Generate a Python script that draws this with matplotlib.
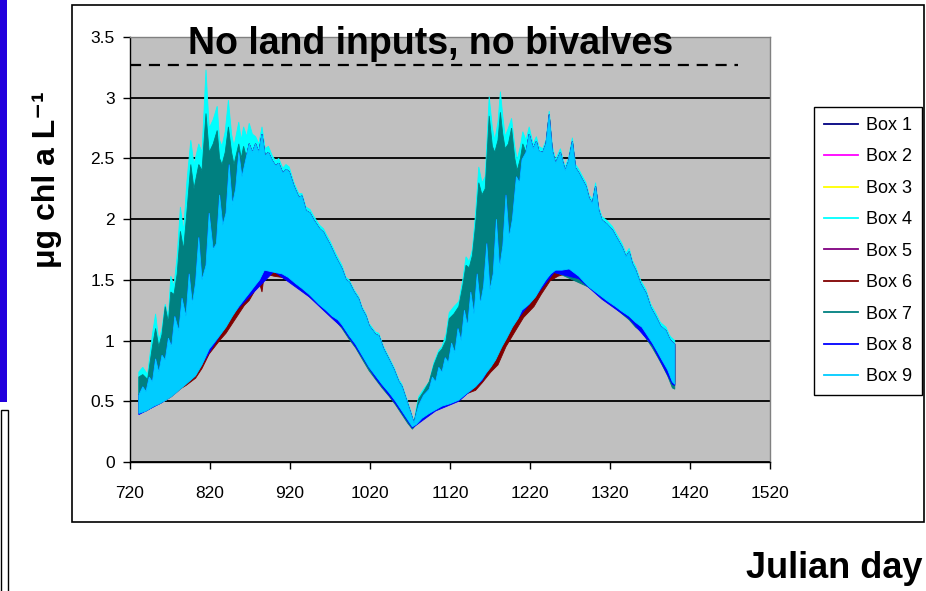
import numpy as np
import matplotlib
matplotlib.use("Agg")
import matplotlib.pyplot as plt
from matplotlib.lines import Line2D
from matplotlib.patches import Rectangle

plt.rcParams['font.family'] = ['Liberation Sans', 'DejaVu Sans']

# ---------------- data ----------------
box_labels = ["Box 1", "Box 2", "Box 3", "Box 4", "Box 5", "Box 6", "Box 7", "Box 8", "Box 9"]
box_colors = ["#000080", "#FF00FF", "#FFFF00", "#00FFFF", "#800080", "#800000", "#008080", "#0000FF", "#00CCFF"]

x_ticks = [720, 820, 920, 1020, 1120, 1220, 1320, 1420, 1520]
y_ticks = [0, 0.5, 1, 1.5, 2, 2.5, 3, 3.5]
y_tick_labels = ["0", "0.5", "1", "1.5", "2", "2.5", "3", "3.5"]

threshold_days = [720, 1480]
threshold_values = [3.27, 3.27]

# lower edge of the Box 9 band
low_days = [731, 740, 750, 757, 765, 772, 781, 790, 802, 810, 819, 825, 832, 840, 848, 856, 863, 869, 876, 882,
            888, 895, 902, 910, 918, 927, 935, 944, 950, 956, 965, 973, 980, 985, 994, 1002, 1010, 1019, 1027, 1035,
            1044, 1052, 1060, 1067, 1073, 1078, 1085, 1094, 1102, 1110, 1120, 1131, 1140, 1152, 1160, 1165, 1171, 1177, 1185, 1191,
            1198, 1205, 1210, 1219, 1227, 1234, 1240, 1246, 1252, 1260, 1269, 1275, 1281, 1288, 1294, 1302, 1310, 1318, 1327, 1335,
            1344, 1352, 1360, 1366, 1373, 1380, 1385, 1392, 1398, 1401]
box9_low = [0.40, 0.42, 0.46, 0.48, 0.51, 0.54, 0.59, 0.64, 0.71, 0.80, 0.93, 0.98, 1.04, 1.11, 1.20, 1.28, 1.34, 1.39, 1.45, 1.50,
            1.58, 1.57, 1.56, 1.55, 1.52, 1.47, 1.43, 1.38, 1.34, 1.30, 1.25, 1.20, 1.17, 1.13, 1.04, 0.97, 0.88, 0.78, 0.71, 0.64,
            0.57, 0.50, 0.42, 0.35, 0.29, 0.31, 0.36, 0.40, 0.43, 0.46, 0.48, 0.51, 0.56, 0.62, 0.68, 0.73, 0.78, 0.84, 0.95, 1.02,
            1.11, 1.18, 1.25, 1.30, 1.36, 1.44, 1.50, 1.55, 1.58, 1.58, 1.59, 1.56, 1.53, 1.48, 1.44, 1.40, 1.36, 1.32, 1.28, 1.24,
            1.20, 1.15, 1.11, 1.05, 0.98, 0.90, 0.84, 0.76, 0.66, 0.64]

# upper edge (Box 4 spikes)
top_days = [731, 736, 742, 748, 752, 756, 760, 764, 768, 771, 775, 779, 783, 787, 791, 796, 800, 806, 810, 815,
            819, 824, 829, 832, 835, 839, 843, 847, 850, 856, 859, 862, 866, 869, 873, 877, 881, 885, 889, 893,
            898, 902, 906, 911, 915, 919, 925, 931, 935, 940, 945, 950, 957, 962, 965, 970, 977, 985, 990, 994,
            1000, 1006, 1010, 1015, 1019, 1027, 1031, 1037, 1044, 1050, 1056, 1060, 1066, 1071, 1075, 1078, 1081, 1087, 1094, 1100,
            1106, 1110, 1115, 1119, 1125, 1131, 1136, 1140, 1144, 1148, 1152, 1156, 1160, 1164, 1169, 1173, 1176, 1180, 1183, 1186,
            1189, 1193, 1197, 1201, 1204, 1208, 1211, 1215, 1219, 1224, 1228, 1231, 1236, 1240, 1244, 1248, 1252, 1258, 1261, 1264,
            1268, 1273, 1277, 1281, 1285, 1290, 1294, 1298, 1302, 1306, 1310, 1316, 1323, 1328, 1335, 1340, 1344, 1348, 1352, 1358,
            1365, 1371, 1377, 1383, 1390, 1394, 1396, 1401]
box4_high = [0.74, 0.78, 0.72, 1.05, 1.22, 1.00, 1.10, 1.30, 1.20, 1.53, 1.45, 1.70, 2.10, 1.90, 2.30, 2.65, 2.45, 2.62, 2.55, 3.23,
             2.75, 2.82, 2.93, 2.65, 2.60, 2.72, 2.98, 2.70, 2.60, 2.80, 2.65, 2.76, 2.68, 2.79, 2.70, 2.68, 2.62, 2.76, 2.58, 2.60,
             2.52, 2.48, 2.50, 2.42, 2.45, 2.43, 2.30, 2.21, 2.21, 2.10, 2.08, 2.02, 1.95, 1.92, 1.88, 1.82, 1.72, 1.62, 1.52, 1.50,
             1.42, 1.36, 1.28, 1.22, 1.14, 1.07, 1.06, 0.95, 0.86, 0.78, 0.68, 0.64, 0.52, 0.42, 0.33, 0.45, 0.54, 0.60, 0.66, 0.82,
             0.92, 0.95, 1.05, 1.23, 1.28, 1.32, 1.50, 1.69, 1.65, 1.75, 2.05, 2.43, 2.30, 2.35, 3.01, 2.75, 2.65, 2.80, 3.05, 2.85,
             2.68, 2.75, 2.83, 2.60, 2.49, 2.60, 2.72, 2.65, 2.76, 2.62, 2.68, 2.60, 2.58, 2.65, 2.89, 2.60, 2.49, 2.58, 2.50, 2.43,
             2.50, 2.67, 2.45, 2.41, 2.36, 2.30, 2.20, 2.16, 2.30, 2.10, 2.02, 1.99, 1.94, 1.88, 1.80, 1.72, 1.76, 1.66, 1.61, 1.50,
             1.42, 1.30, 1.23, 1.15, 1.11, 1.05, 1.03, 1.00]

# upper edge of Box 9
hi9_days = [731, 736, 740, 744, 748, 752, 756, 760, 764, 768, 772, 776, 781, 785, 790, 794, 798, 802, 806, 810,
            815, 819, 824, 828, 832, 836, 840, 844, 848, 852, 856, 860, 865, 869, 873, 877, 881, 885, 889, 893,
            898, 902, 906, 911, 915, 919, 925, 931, 935, 940, 945, 950, 957, 962, 965, 970, 977, 985, 990, 994,
            1000, 1006, 1010, 1015, 1019, 1027, 1031, 1037, 1044, 1050, 1056, 1060, 1066, 1071, 1075, 1078, 1081, 1087, 1094, 1098,
            1102, 1106, 1110, 1114, 1118, 1122, 1126, 1130, 1134, 1138, 1142, 1146, 1150, 1154, 1158, 1162, 1166, 1170, 1174, 1178,
            1182, 1186, 1190, 1194, 1198, 1203, 1207, 1210, 1215, 1219, 1224, 1228, 1231, 1236, 1240, 1244, 1248, 1252, 1258, 1261,
            1264, 1268, 1273, 1277, 1281, 1285, 1290, 1294, 1298, 1302, 1306, 1310, 1316, 1323, 1328, 1335, 1340, 1344, 1348, 1352,
            1358, 1365, 1371, 1377, 1383, 1390, 1394, 1396, 1401]
box9_high = [0.55, 0.62, 0.58, 0.70, 0.66, 0.85, 0.74, 0.88, 0.84, 1.02, 0.95, 1.20, 1.08, 1.35, 1.20, 1.55, 1.30, 1.48, 1.85, 1.50,
             1.62, 2.05, 1.75, 1.80, 2.20, 1.95, 2.05, 2.45, 2.12, 2.25, 2.55, 2.35, 2.50, 2.62, 2.55, 2.62, 2.55, 2.70, 2.52, 2.55,
             2.48, 2.44, 2.46, 2.38, 2.41, 2.39, 2.27, 2.18, 2.19, 2.07, 2.05, 1.99, 1.92, 1.89, 1.85, 1.79, 1.69, 1.59, 1.50, 1.48,
             1.40, 1.34, 1.26, 1.20, 1.12, 1.05, 1.04, 0.93, 0.84, 0.76, 0.66, 0.62, 0.50, 0.40, 0.32, 0.40, 0.47, 0.55, 0.60, 0.70,
             0.66, 0.78, 0.74, 0.86, 0.82, 0.98, 0.90, 1.10, 1.00, 1.25, 1.12, 1.40, 1.22, 1.55, 1.30, 1.45, 1.80, 1.42, 1.55, 2.00,
             1.60, 1.78, 2.20, 1.85, 2.00, 2.35, 2.30, 2.49, 2.55, 2.70, 2.58, 2.64, 2.56, 2.55, 2.62, 2.86, 2.56, 2.46, 2.55, 2.47,
             2.40, 2.47, 2.64, 2.42, 2.38, 2.33, 2.27, 2.17, 2.13, 2.27, 2.07, 1.99, 1.96, 1.91, 1.85, 1.77, 1.69, 1.73, 1.63, 1.58,
             1.47, 1.39, 1.27, 1.20, 1.12, 1.08, 1.02, 1.00, 0.97]

# Box 7 (teal) edges
hi7_days = [731, 736, 742, 748, 752, 756, 760, 764, 768, 771, 775, 779, 783, 787, 791, 796, 800, 806, 810, 815,
            819, 824, 829, 832, 835, 839, 843, 847, 850, 856, 859, 862, 866, 869, 873, 877, 881, 885, 889, 893,
            900, 906, 920, 940, 960, 980, 1000, 1020, 1040, 1060, 1075, 1081, 1087, 1094, 1100, 1106, 1110, 1115, 1119, 1125,
            1131, 1136, 1140, 1144, 1148, 1152, 1156, 1160, 1164, 1169, 1173, 1176, 1180, 1183, 1186, 1189, 1193, 1197, 1201, 1204,
            1208, 1211, 1215, 1219, 1224, 1228, 1231, 1236, 1240, 1244, 1250, 1260, 1280, 1300, 1320, 1340, 1360, 1380, 1401]
box7_high = [0.70, 0.72, 0.68, 0.95, 1.10, 0.95, 1.05, 1.28, 1.15, 1.40, 1.38, 1.55, 1.90, 1.75, 2.05, 2.45, 2.25, 2.45, 2.40, 2.87,
             2.55, 2.62, 2.73, 2.50, 2.45, 2.55, 2.76, 2.55, 2.45, 2.62, 2.50, 2.60, 2.50, 2.62, 2.50, 2.55, 2.45, 2.60, 2.40, 2.45,
             2.30, 2.30, 2.20, 1.95, 1.80, 1.55, 1.30, 1.05, 0.85, 0.55, 0.32, 0.52, 0.58, 0.66, 0.80, 0.90, 0.93, 1.00, 1.18, 1.22,
             1.28, 1.45, 1.62, 1.60, 1.70, 1.95, 2.30, 2.20, 2.25, 2.85, 2.60, 2.55, 2.65, 2.88, 2.70, 2.58, 2.62, 2.75, 2.50, 2.40,
             2.50, 2.62, 2.55, 2.66, 2.52, 2.58, 2.50, 2.48, 2.55, 2.70, 2.45, 2.40, 2.30, 2.10, 1.85, 1.60, 1.40, 1.10, 0.95]
lo7_days = [731, 760, 800, 850, 900, 960, 985, 994, 1002, 1010, 1019, 1027, 1035, 1044, 1052, 1060, 1067, 1073, 1085, 1102,
            1150, 1200, 1250, 1300, 1335, 1344, 1352, 1360, 1366, 1373, 1380, 1385, 1392, 1398, 1401]
box7_low = [0.42, 0.52, 0.74, 1.26, 1.58, 1.30, 1.10, 1.01, 0.94, 0.85, 0.75, 0.68, 0.61, 0.54, 0.47, 0.39, 0.32, 0.27, 0.37, 0.44,
            0.63, 1.15, 1.57, 1.42, 1.22, 1.17, 1.11, 1.07, 1.01, 0.94, 0.86, 0.80, 0.71, 0.61, 0.60]

# Box 8 (blue) lower edge
lo8_days = [731, 760, 800, 850, 900, 944, 973, 985, 1002, 1027, 1052, 1073, 1102, 1131, 1160, 1200, 1250, 1281, 1310, 1344,
            1373, 1398, 1401]
box8_low = [0.39, 0.49, 0.70, 1.23, 1.57, 1.36, 1.18, 1.11, 0.95, 0.69, 0.48, 0.28, 0.42, 0.50, 0.67, 1.14, 1.56, 1.51, 1.34, 1.18,
            0.96, 0.64, 0.63]

# Box 6 (dark red) lower edge
lo6_days = [731, 790, 802, 810, 819, 832, 840, 848, 856, 863, 869, 876, 882, 885, 888, 900, 910, 920, 935, 960,
            1000, 1030, 1060, 1073, 1102, 1131, 1140, 1152, 1160, 1171, 1180, 1190, 1200, 1212, 1225, 1234, 1245, 1255, 1270, 1290,
            1300, 1330, 1360, 1380, 1401]
box6_low = [0.41, 0.63, 0.69, 0.77, 0.89, 1.00, 1.06, 1.14, 1.22, 1.29, 1.33, 1.41, 1.47, 1.40, 1.55, 1.53, 1.52, 1.49, 1.41, 1.28,
            1.02, 0.72, 0.45, 0.30, 0.45, 0.53, 0.56, 0.59, 0.65, 0.74, 0.80, 0.95, 1.06, 1.19, 1.28, 1.38, 1.49, 1.53, 1.56, 1.46,
            1.42, 1.30, 1.14, 0.93, 0.66]

# ---------------- figure ----------------
W, H = 926, 591
fig = plt.figure(figsize=(W / 100, H / 100), dpi=100, facecolor="white")


def fx(px):
    return px / W


def fy(py):
    return 1 - py / H


ax = fig.add_axes([fx(130), fy(462), fx(770) - fx(130), fy(37) - fy(462)])
ax.set_facecolor("#C0C0C0")


def band(lo_days, lo, hi_days, hi, color, z):
    xs = np.concatenate([np.asarray(hi_days, float), np.asarray(lo_days, float)[::-1]])
    ys = np.concatenate([np.asarray(hi, float), np.asarray(lo, float)[::-1]])
    ax.fill(xs, ys, color=color, lw=0.6, edgecolor=color, zorder=z)


series = {
    "Box 1": (low_days, box9_low, hi9_days, box9_high),
    "Box 2": (low_days, box9_low, hi9_days, box9_high),
    "Box 3": (low_days, box9_low, hi9_days, box9_high),
    "Box 4": (low_days, box9_low, top_days, box4_high),
    "Box 5": (low_days, box9_low, hi9_days, box9_high),
    "Box 6": (lo6_days, box6_low, hi9_days, box9_high),
    "Box 7": (lo7_days, box7_low, hi7_days, box7_high),
    "Box 8": (lo8_days, box8_low, hi9_days, box9_high),
    "Box 9": (low_days, box9_low, hi9_days, box9_high),
}
for i, (lab, col) in enumerate(zip(box_labels, box_colors)):
    ld, lv, hd, hv = series[lab]
    band(ld, lv, hd, hv, col, 2 + i)

ax.plot(threshold_days, threshold_values, color="black", lw=1.6,
        linestyle=(0, (5, 3.5)), zorder=20, clip_on=False)

ax.set_xlim(720, 1520)
ax.set_ylim(0, 3.5)
ax.set_xticks(x_ticks)
ax.set_xticklabels([str(t) for t in x_ticks])
ax.set_yticks(y_ticks)
ax.set_yticklabels(y_tick_labels)
ax.tick_params(axis="both", direction="out", length=5, width=1, labelsize=12.5, colors="black")
ax.tick_params(axis="x", pad=12)
ax.tick_params(axis="y", pad=6)

ax.set_axisbelow(True)
ax.yaxis.grid(True, color="black", lw=1.3)
ax.xaxis.grid(False)
ax.get_ygridlines()[-1].set_visible(False)
for s in ["left", "bottom"]:
    ax.spines[s].set_color("black")
    ax.spines[s].set_linewidth(1.0)
for s in ["top", "right"]:
    ax.spines[s].set_color("#808080")
    ax.spines[s].set_linewidth(1.0)

handles = [Line2D([], [], color=c, lw=1.3) for c in box_colors]
leg = ax.legend(handles, box_labels, loc="upper left",
                bbox_to_anchor=(fx(814), fy(107)), bbox_transform=fig.transFigure,
                frameon=True, fancybox=False, edgecolor="black", framealpha=1,
                fontsize=13, handlelength=1.9, handletextpad=0.45,
                labelspacing=0.80, borderpad=0.55, borderaxespad=0)
leg.get_frame().set_linewidth(1.0)

# texts
fig.text(fx(431), fy(54), "No land inputs, no bivalves", ha="center", va="baseline",
         fontsize=27, weight="bold", zorder=30)
fig.text(fx(922), fy(578), "Julian day", ha="right", va="baseline", fontsize=26, weight="bold")
fig.text(fx(47), fy(180), "μg chl a L⁻¹", rotation=90, ha="center", va="center",
         fontsize=23, weight="bold")

# frame & slide decorations
fig.add_artist(Rectangle((fx(72), fy(522)), fx(924) - fx(72), fy(5) - fy(522),
                         transform=fig.transFigure, fill=False, ec="black", lw=1.2))
fig.add_artist(Rectangle((0, fy(402)), fx(7), fy(0) - fy(402),
                         transform=fig.transFigure, fc="#2200DD", ec="none"))
fig.add_artist(Rectangle((fx(1), fy(600)), fx(8) - fx(1), fy(410) - fy(600),
                         transform=fig.transFigure, fill=False, ec="black", lw=1.0))

fig.savefig("out.png", dpi=100)
